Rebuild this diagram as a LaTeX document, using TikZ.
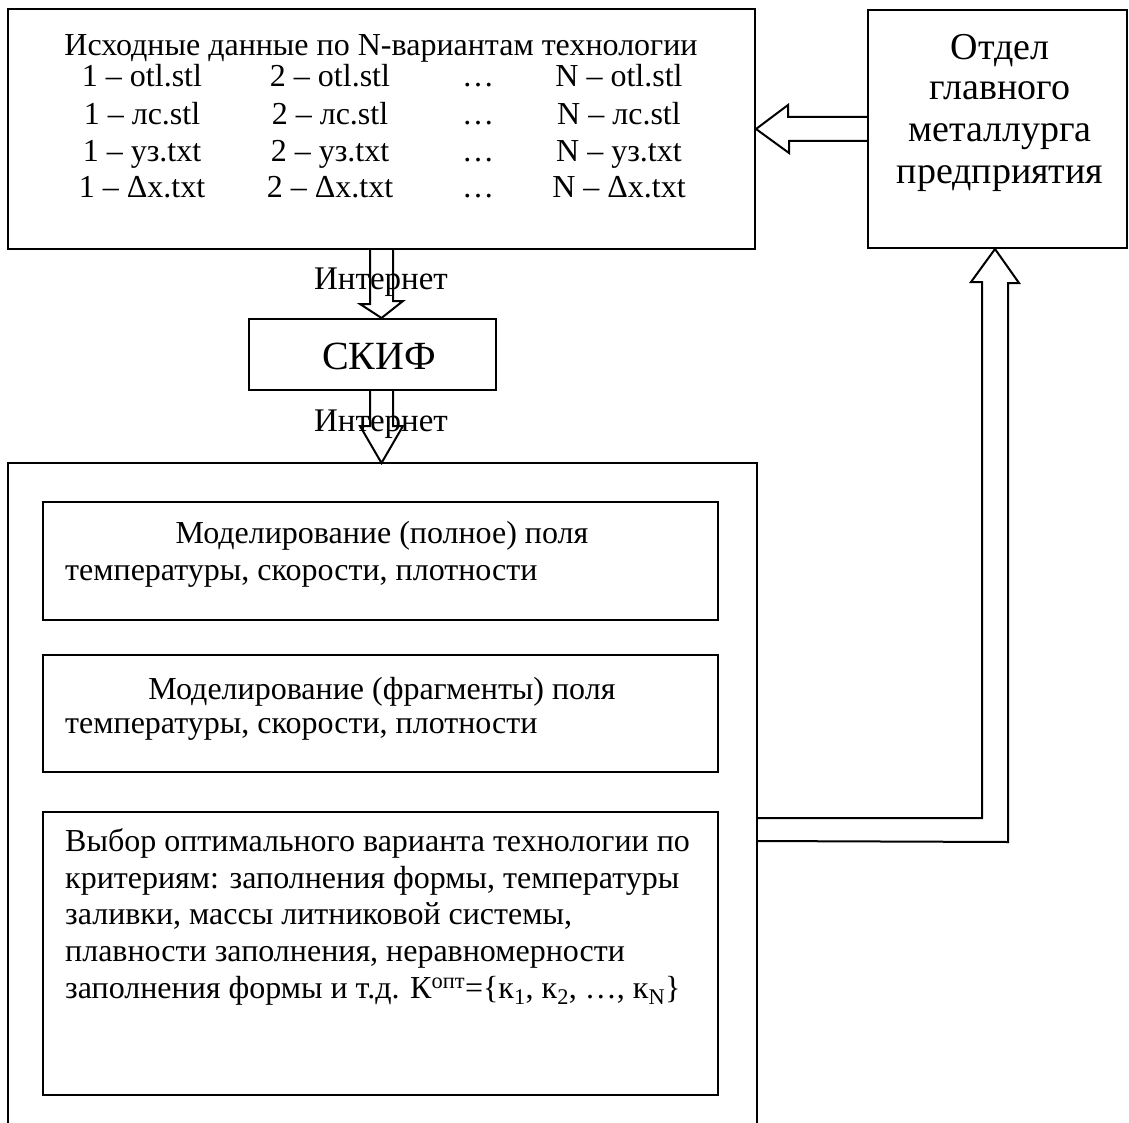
\documentclass[tikz,border=0pt]{standalone}
\usepackage{fontspec}
\setmainfont{Liberation Serif}
\usetikzlibrary{calc}
\begin{document}
\begin{tikzpicture}[x=1pt,y=-1pt,
  box/.style={draw,line width=2pt,rectangle,inner sep=0pt},
  txt/.style={anchor=base,inner sep=0pt,font=\fontsize{32}{38}\selectfont},
  txtl/.style={anchor=base west,inner sep=0pt,font=\fontsize{32}{38}\selectfont},
  big/.style={anchor=base,inner sep=0pt,font=\fontsize{38}{44}\selectfont},
  harrow/.style={draw,line width=2pt,line join=miter}]
\useasboundingbox (0,0) rectangle (1129,1123);
% boxes
\node[box,minimum width=747pt,minimum height=240pt] (src) at (381.5,129) {};
\node[box,minimum width=259pt,minimum height=238pt] (dept) at (997.5,129) {};
\node[box,minimum width=247pt,minimum height=71pt] (skif) at (372.5,354.5) {};
\draw[line width=2pt] (8,1140) -- (8,463) coordinate (bigtl) -- (757,463) coordinate (bigtr) -- (757,1140);
\node[box,minimum width=675pt,minimum height=118pt] (m1) at (380.5,561) {};
\node[box,minimum width=675pt,minimum height=117pt] (m2) at (380.5,713.5) {};
\node[box,minimum width=675pt,minimum height=283pt] (m3) at (380.5,953.5) {};
% source text
\node[txt] (t0) at (381,56) {Исходные данные по N-вариантам технологии};
\node[txt] (a1) at (142,87) {1 – otl.stl};
\node[txt] (b1) at (330,87) {2 – otl.stl};
\node[txt] (c1) at (478,87) {…};
\node[txt] (d1) at (619,87) {N – otl.stl};
\node[txt] (a2) at (142,125) {1 – лс.stl};
\node[txt] (b2) at (330,125) {2 – лс.stl};
\node[txt] (c2) at (478,125) {…};
\node[txt] (d2) at (619,125) {N – лс.stl};
\node[txt] (a3) at (142,162) {1 – уз.txt};
\node[txt] (b3) at (330,162) {2 – уз.txt};
\node[txt] (c3) at (478,162) {…};
\node[txt] (d3) at (619,162) {N – уз.txt};
\node[txt] (a4) at (142,198) {1 – Δx.txt};
\node[txt] (b4) at (330,198) {2 – Δx.txt};
\node[txt] (c4) at (478,198) {…};
\node[txt] (d4) at (619,198) {N – Δx.txt};
% dept text
\node[big] (o1) at (1000,60) {Отдел};
\node[big] (o2) at (1000,100) {главного};
\node[big] (o3) at (1000,142) {металлурга};
\node[big] (o4) at (1000,184) {предприятия};
% skif
\node[txt,font=\fontsize{40}{46}\selectfont] (sk) at (379,369) {СКИФ};
% modelling
\node[txt] (m1a) at (382,543) {Моделирование (полное) поля};
\node[txtl] (m1b) at (65,580) {температуры, скорости, плотности};
\node[txt] (m2a) at (382,699) {Моделирование (фрагменты) поля};
\node[txtl] (m2b) at (65,733) {температуры, скорости, плотности};
\node[txtl] (m3a) at (65,851) {Выбор оптимального варианта технологии по};
\node[txtl] (m3b) at (65,888) {критериям: заполнения формы, температуры};
\node[txtl] (m3c) at (65,924) {заливки, массы литниковой системы,};
\node[txtl] (m3d) at (65,961) {плавности заполнения, неравномерности};
\node[txtl] (m3e) at (65,998) {заполнения формы и т.д. К\textsuperscript{опт}=\{к\textsubscript{1}, к\textsubscript{2}, …, к\textsubscript{N}\}};
% arrow src <- dept
\coordinate (tipL) at (src.east |- dept.west);
\draw[harrow] ($(dept.west)+(0,-12)$) -- ++(-79,0) -- ++(0,-12) -- (tipL) -- ++(33,24) -- ++(0,-12) -- ($(dept.west)+(0,12)$);
% arrow src -> skif
\draw[harrow] ($(src.south)+(-11.5,0)$) -- ++(0,54) -- ++(-10,0) -- ($(skif.north)+(9,0)$) -- ++(21.5,-17) -- ++(-10,0) -- ($(src.south)+(11.5,0)$);
% arrow skif -> big
\draw[harrow] ($(skif.south)+(-2.5,0)$) -- ++(0,35) -- ++(-10,0) -- ($(bigtl)+(373.5,0)$) -- ++(21.5,-37) -- ++(-10,0) -- ($(skif.south)+(20.5,0)$);
% internet labels
\node[txt,font=\fontsize{33}{38}\selectfont] (i1) at (381,289) {Интернет};
\node[txt,font=\fontsize{33}{38}\selectfont] (i2) at (381,431) {Интернет};
% arrow m3 -> dept
\draw[harrow] ($(bigtr)+(0,355)$) -- ++(225,0) -- ++(0,-536) -- ++(-11,0) -- ($(dept.south)+(-2.5,0)$) -- ++(24,34) -- ++(-11,0) -- ++(0,559) -- ($(bigtr)+(0,378)$);
\end{tikzpicture}
\end{document}
